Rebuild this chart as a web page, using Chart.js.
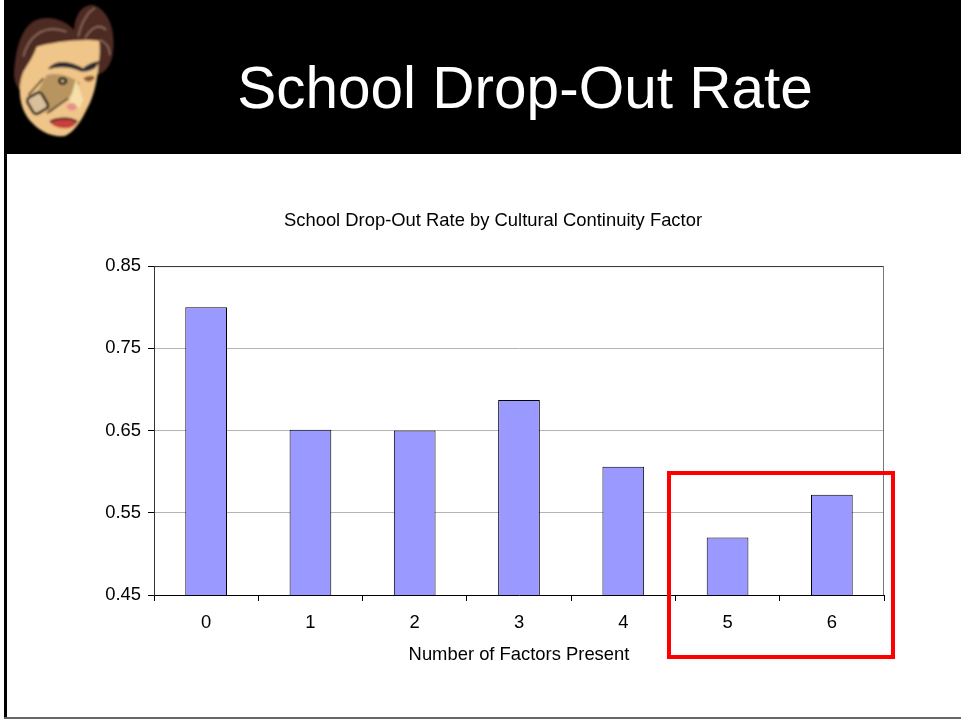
<!DOCTYPE html>
<html>
<head>
<meta charset="utf-8">
<script src="https://cdn.jsdelivr.net/npm/chart.js@4"></script>
<style>
  html, body { margin: 0; padding: 0; background: #fff; }
  #slide { position: relative; width: 961px; height: 719px; overflow: hidden; font-family: "Liberation Sans", Arial, sans-serif; }
  #band { position: absolute; left: 4px; top: 0; width: 957px; height: 154px; background: #000; }
  #heading { position: absolute; left: 4px; width: 1042px; top: 52px; margin: 0; color: #fff; font-size: 58.5px; line-height: 72px; font-weight: normal; text-align: center; }
  #leftEdge { position: absolute; left: 4px; top: 154px; width: 3px; height: 565px; background: #000; }
  #bottomEdge { position: absolute; left: 4px; top: 717px; width: 957px; height: 2px; background: #666; }
  #mask { position: absolute; left: 0; top: 0; width: 200px; height: 180px; }
  #chartBox { position: absolute; left: 102px; top: 155px; width: 859px; height: 564px; }
  #redBox { position: absolute; left: 667px; top: 471px; width: 220px; height: 180px; border: 4px solid #f00; }
</style>
</head>
<body>
<div id="slide">
  <div id="band"></div>
  <svg id="mask" viewBox="0 0 600 540">
    <defs><filter id="soft"><feGaussianBlur stdDeviation="2.5"/></filter></defs>
    <g filter="url(#soft)">
      <path d="M42 215 C50 120 75 60 130 55 C170 50 205 70 222 90 C225 40 250 12 280 15 C325 30 350 90 338 165 C330 205 310 220 290 225 L100 280 C70 290 40 265 42 215Z" fill="#4e2a22"/>
      <path d="M70 170 C85 110 130 70 200 95 M235 110 C245 60 270 30 285 25 M255 115 C275 80 300 70 318 90 M300 120 C315 125 328 140 330 165" stroke="#8a6a5c" stroke-width="5" fill="none"/>
      <path d="M110 140 C150 128 240 115 298 122 C300 150 300 170 296 185 C292 250 280 290 262 325 C245 360 225 395 195 408 C150 415 100 385 75 340 C55 300 55 250 70 215 C85 190 100 170 110 140Z" fill="#efc589"/>
      <path d="M145 205 C170 175 215 185 250 205 C265 190 285 185 300 183 L285 205 C265 215 255 215 245 215 C210 200 175 198 148 208Z" fill="#2e2a30"/>
      <path d="M140 225 C175 215 225 235 240 250 L205 295 L150 340 L110 280Z" fill="#b89560"/>
      <path d="M228 238 L250 300 L238 325 L205 318Z" fill="#f6dfa8"/>
      <ellipse cx="188" cy="243" rx="14" ry="12" fill="#1a1410"/>
      <ellipse cx="188" cy="243" rx="6" ry="5" fill="#c9b08a"/>
      <path d="M250 235 C262 225 280 225 285 232 C275 248 260 250 250 235Z" fill="#8a5a30"/>
      <path d="M130 235 L85 285 M205 295 L140 340" stroke="#3a2c22" stroke-width="5" fill="none"/>
      <rect x="88" y="282" width="50" height="55" rx="12" fill="#d9c09a" stroke="#241c18" stroke-width="8" transform="rotate(-30 113 310)"/>
      <path d="M200 320 C205 305 225 305 232 322 C225 335 205 335 200 320Z" fill="#e8908a"/>
      <path d="M150 368 C170 350 215 355 230 368 C220 388 175 392 150 368Z" fill="#c8403a"/>
      <path d="M150 365 C175 352 215 352 232 366" stroke="#3a1c1c" stroke-width="6" fill="none"/>
    </g>
  </svg>
  <h1 id="heading">School Drop-Out Rate</h1>
  <div id="leftEdge"></div>
  <div id="bottomEdge"></div>
  <div id="chartBox"><canvas id="bars"></canvas></div>
  <div id="redBox"></div>
</div>
<script>
const factors = ['0', '1', '2', '3', '4', '5', '6'];
const dropOutRates = [0.80, 0.651, 0.65, 0.687, 0.606, 0.52, 0.572];

const fontFamily = '"Liberation Sans", Arial, sans-serif';
const labelSize = 18.4;

// Chart.js has no plot frame option, so the top and right lines go in here
const plotFrame = {
    id: 'plotFrame',
    afterDatasetsDraw(chart) {
        const { ctx, chartArea: a } = chart;
        ctx.save();
        ctx.lineWidth = 1;
        ctx.strokeStyle = '#333';
        ctx.beginPath();
        ctx.moveTo(a.left, a.top + 0.5);
        ctx.lineTo(a.right, a.top + 0.5);
        ctx.stroke();
        ctx.strokeStyle = '#777';
        ctx.beginPath();
        ctx.moveTo(a.right - 0.5, a.top);
        ctx.lineTo(a.right - 0.5, a.bottom);
        ctx.stroke();
        ctx.restore();
    },
};

new Chart(document.getElementById('bars'), {
    type: 'bar',
    data: {
        labels: factors,
        datasets: [
            {
                data: dropOutRates,
                label: 'School Drop-Out Rate',
                backgroundColor: '#9999ff',
                borderColor: '#000',
                borderWidth: 1,
                categoryPercentage: 1,
                barPercentage: 0.4,
            }
        ],
    },
    options: {
        responsive: true,
        maintainAspectRatio: false,
        animation: false,
        layout: { padding: { right: 77, bottom: 53 } },
        plugins: {
            legend: { display: false },
            tooltip: { enabled: false },
            title: {
                display: true,
                text: 'School Drop-Out Rate by Cultural Continuity Factor',
                color: '#000',
                font: { family: fontFamily, size: labelSize, weight: 'normal' },
                padding: { top: 55, bottom: 34 },
            },
        },
        scales: {
            x: {
                afterFit(scale) { scale.height = 71; },
                grid: { offset: true, drawOnChartArea: false, tickLength: 6, tickColor: '#000' },
                border: { color: '#000' },
                ticks: { color: '#000', padding: 11, maxRotation: 0, font: { family: fontFamily, size: labelSize } },
                title: {
                    display: true,
                    text: 'Number of Factors Present',
                    color: '#000',
                    font: { family: fontFamily, size: labelSize },
                    padding: { top: 10, bottom: 0 },
                },
            },
            y: {
                min: 0.45,
                max: 0.85,
                afterFit(scale) { scale.width = 52; },
                afterBuildTicks(scale) {
                    scale.ticks = [0.45, 0.55, 0.65, 0.75, 0.85].map(value => ({ value }));
                },
                grid: { color: '#b4b4b4', tickLength: 6, tickColor: '#000' },
                border: { color: '#333' },
                ticks: {
                    color: '#000',
                    padding: 7,
                    font: { family: fontFamily, size: labelSize },
                    callback: value => value.toFixed(2),
                },
            },
        },
    },
    plugins: [plotFrame],
});
</script>
</body>
</html>
